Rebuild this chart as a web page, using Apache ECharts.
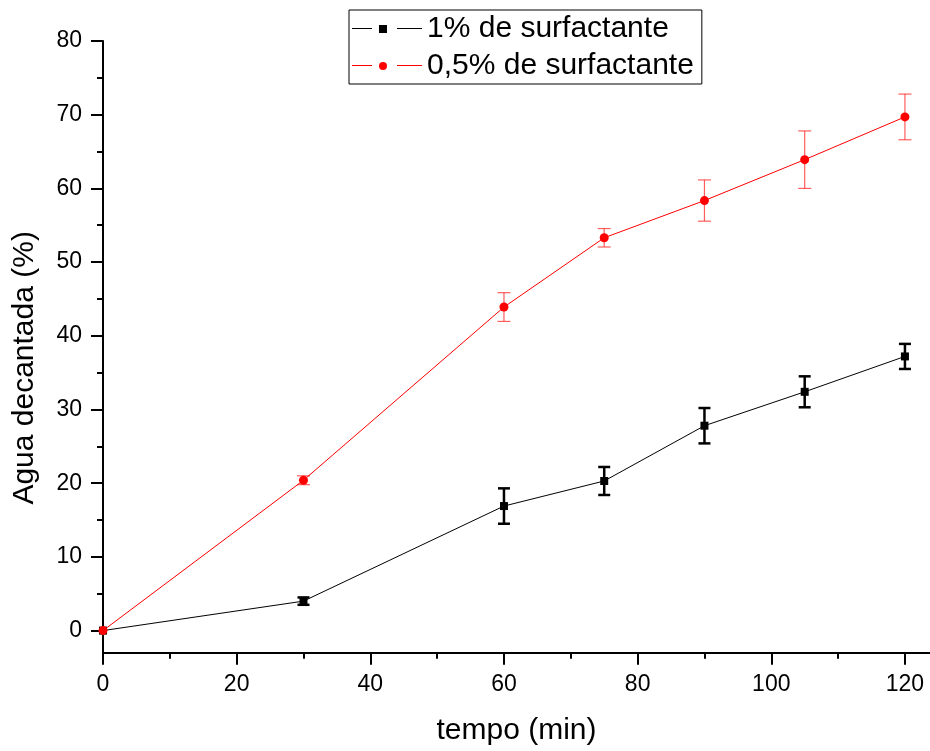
<!DOCTYPE html>
<html>
<head>
<meta charset="utf-8">
<script src="https://cdn.jsdelivr.net/npm/echarts@6/dist/echarts.min.js"></script>
<style>
  html, body { margin: 0; padding: 0; background: #fff; }
  #chart { width: 930px; height: 751px; }
</style>
</head>
<body>
<div id="chart"></div>
<script>
// Decanted water (%) over time for two surfactant concentrations
const tempo = [0, 30, 60, 75, 90, 105, 120];
const surf1 = [0, 4.0, 16.9, 20.3, 27.8, 32.4, 37.2];
const surf1Err = [0, 0.5, 2.4, 1.9, 2.4, 2.1, 1.7];
const surf05 = [0, 20.4, 43.9, 53.3, 58.35, 63.9, 69.7];
const surf05Err = [0, 0.6, 1.95, 1.25, 2.8, 3.9, 3.1];

const xMajor = [0, 20, 40, 60, 80, 100, 120];
const xMinor = [10, 30, 50, 70, 90, 110];
const yMajor = [0, 10, 20, 30, 40, 50, 60, 70, 80];
const yMinor = [5, 15, 25, 35, 45, 55, 65, 75];

const names = ['1% de surfactante', '0,5% de surfactante'];

const FONT = 'Liberation Sans, Arial, sans-serif';

const pts = (ys) => tempo.map((t, i) => [t, ys[i]]);
const errPts = (ys, es) => tempo.map((t, i) => [t, ys[i], es[i]]);

function errorBars(color, width, cap) {
  return function (params, api) {
    const x = api.value(0), y = api.value(1), e = api.value(2);
    if (!e) return null;
    const top = api.coord([x, y + e]);
    const bot = api.coord([x, y - e]);
    const style = { stroke: color, lineWidth: width };
    return {
      type: 'group',
      children: [
        { type: 'line', shape: { x1: top[0], y1: top[1], x2: bot[0], y2: bot[1] }, style },
        { type: 'line', shape: { x1: top[0] - cap / 2, y1: top[1], x2: top[0] + cap / 2, y2: top[1] }, style },
        { type: 'line', shape: { x1: bot[0] - cap / 2, y1: bot[1], x2: bot[0] + cap / 2, y2: bot[1] }, style }
      ]
    };
  };
}

// legend icons: line - marker - line
const iconSquare = 'path://M0,3H20V4H0Z M27,0H35V8H27Z M45,3H70V4H45Z';
const iconCircle = 'path://M0,3H20V4H0Z M35,4A4,4 0 1,1 27,4A4,4 0 1,1 35,4Z M45,3H70V4H45Z';

const tickStyle = { color: '#000', width: 2 };

const chart = echarts.init(document.getElementById('chart'), null, { renderer: 'canvas' });
chart.setOption({
  backgroundColor: '#fff',
  animation: false,
  grid: { left: 103, right: 0, top: 41, bottom: 98.3, containLabel: false },
  legend: {
    orient: 'vertical',
    left: 349,
    top: 10,
    padding: [1, 8, 0, 3],
    itemGap: 1,
    itemWidth: 70,
    itemHeight: 8,
    borderColor: '#000',
    borderWidth: 1,
    backgroundColor: '#fff',
    itemStyle: { borderWidth: 0 },
    textStyle: { fontFamily: FONT, fontSize: 30, color: '#000', lineHeight: 36 },
    data: [
      { name: names[0], icon: iconSquare },
      { name: names[1], icon: iconCircle }
    ]
  },
  xAxis: [
    {
      type: 'value',
      position: 'bottom',
      min: 0,
      max: 123.75,
      name: 'tempo (min)',
      nameLocation: 'middle',
      nameGap: 63,
      nameTextStyle: { fontFamily: FONT, fontSize: 30, color: '#000' },
      splitLine: { show: false },
      axisLine: { show: true, onZero: false, lineStyle: { color: '#000', width: 2 } },
      axisTick: { show: true, length: 12, lineStyle: tickStyle, customValues: xMajor },
      axisLabel: { color: '#000', fontFamily: FONT, fontSize: 23, margin: 20, customValues: xMajor }
    },
    {
      type: 'value',
      position: 'bottom',
      min: 0,
      max: 123.75,
      splitLine: { show: false },
      axisLine: { show: false, onZero: false },
      axisLabel: { show: false },
      axisTick: { show: true, length: 6, lineStyle: tickStyle, customValues: xMinor }
    }
  ],
  yAxis: [
    {
      type: 'value',
      position: 'left',
      min: -3,
      max: 80,
      name: 'Agua decantada (%)',
      nameLocation: 'middle',
      nameGap: 63,
      nameTextStyle: { fontFamily: FONT, fontSize: 30, color: '#000', padding: [0, 42, 0, 0] },
      splitLine: { show: false },
      axisLine: { show: true, onZero: false, lineStyle: { color: '#000', width: 2 } },
      axisTick: { show: true, length: 12, lineStyle: tickStyle, customValues: yMajor },
      axisLabel: { color: '#000', fontFamily: FONT, fontSize: 23, margin: 21, customValues: yMajor }
    },
    {
      type: 'value',
      position: 'left',
      min: -3,
      max: 80,
      splitLine: { show: false },
      axisLine: { show: false, onZero: false },
      axisLabel: { show: false },
      axisTick: { show: true, length: 6, lineStyle: tickStyle, customValues: yMinor }
    }
  ],
  series: [
    {
      type: 'custom',
      name: names[0] + ' err',
      xAxisIndex: 0, yAxisIndex: 0,
      renderItem: errorBars('#000', 2.5, 12),
      data: errPts(surf1, surf1Err),
      z: 1
    },
    {
      type: 'custom',
      name: names[1] + ' err',
      xAxisIndex: 0, yAxisIndex: 0,
      renderItem: errorBars('rgba(255,40,40,0.75)', 1.2, 13),
      data: errPts(surf05, surf05Err),
      z: 1
    },
    {
      type: 'line',
      name: names[0],
      xAxisIndex: 0, yAxisIndex: 0,
      data: pts(surf1),
      symbol: 'rect',
      symbolSize: 8,
      color: '#000',
      itemStyle: { color: '#000' },
      lineStyle: { color: '#000', width: 1 },
      z: 3
    },
    {
      type: 'line',
      name: names[1],
      xAxisIndex: 0, yAxisIndex: 0,
      data: pts(surf05),
      symbol: 'circle',
      symbolSize: 9,
      color: '#ff0000',
      itemStyle: { color: '#ff0000' },
      lineStyle: { color: '#ff0000', width: 1 },
      z: 4
    }
  ]
});
</script>
</body>
</html>
